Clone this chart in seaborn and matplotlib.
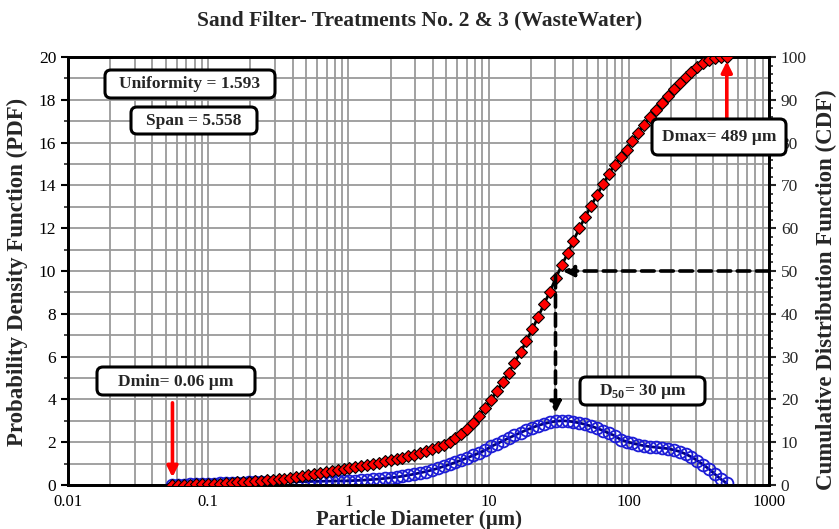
import numpy as np
import pandas as pd
import matplotlib
matplotlib.use("Agg")
import matplotlib.pyplot as plt
import seaborn as sns
from matplotlib.ticker import MultipleLocator, LogLocator, FixedLocator, FixedFormatter, NullFormatter
from matplotlib.patches import FancyBboxPatch
from matplotlib.transforms import IdentityTransform

# ---------------- data ----------------
diameter_um = [0.0556, 0.0612, 0.0675, 0.0743, 0.0819, 0.0902, 0.0994, 0.110, 0.121, 0.133,
               0.147, 0.161, 0.178, 0.196, 0.216, 0.238, 0.262, 0.288, 0.318, 0.350,
               0.385, 0.424, 0.469, 0.516, 0.569, 0.627, 0.690, 0.760, 0.838, 0.923,
               1.016, 1.12, 1.23, 1.36, 1.50, 1.65, 1.82, 2.00, 2.21, 2.43,
               2.68, 2.95, 3.25, 3.58, 3.94, 4.34, 4.78, 5.27, 5.80, 6.39,
               7.05, 7.76, 8.56, 9.43, 10.4, 11.5, 12.6, 13.9, 15.3, 16.9,
               18.6, 20.5, 22.5, 24.8, 27.4, 30.1, 33.2, 36.6, 40.3, 44.4,
               49.0, 54.0, 59.4, 65.5, 72.1, 79.4, 87.5, 96.4, 106, 117,
               129, 142, 157, 172, 190, 209, 231, 254, 280, 308,
               340, 374, 412, 454, 500]

pdf_pct = [0.00, 0.01, 0.02, 0.03, 0.04, 0.05, 0.06, 0.07, 0.08, 0.09,
           0.10, 0.10, 0.11, 0.12, 0.12, 0.13, 0.13, 0.14, 0.14, 0.15,
           0.15, 0.15, 0.16, 0.16, 0.17, 0.17, 0.18, 0.18, 0.19, 0.19,
           0.20, 0.21, 0.22, 0.24, 0.26, 0.28, 0.31, 0.34, 0.37, 0.41,
           0.46, 0.51, 0.57, 0.63, 0.70, 0.78, 0.87, 0.96, 1.06, 1.16,
           1.27, 1.38, 1.50, 1.62, 1.80, 1.93, 2.06, 2.19, 2.32, 2.45,
           2.57, 2.68, 2.78, 2.86, 2.93, 2.98, 3.00, 2.99, 2.95, 2.90,
           2.83, 2.75, 2.65, 2.54, 2.42, 2.30, 2.12, 2.03, 1.95, 1.89,
           1.83, 1.79, 1.76, 1.73, 1.70, 1.64, 1.56, 1.45, 1.31, 1.14,
           0.95, 0.74, 0.50, 0.27, 0.08]

cdf_pct = [0.00, 0.02, 0.05, 0.08, 0.12, 0.16, 0.20, 0.27, 0.35, 0.44,
           0.53, 0.62, 0.71, 0.80, 0.90, 1.00, 1.10, 1.20, 1.30, 1.50,
           1.70, 1.90, 2.10, 2.30, 2.52, 2.75, 3.00, 3.25, 3.50, 3.75,
           4.00, 4.20, 4.45, 4.70, 4.95, 5.20, 5.50, 5.80, 6.10, 6.40,
           6.75, 7.10, 7.45, 7.85, 8.30, 8.85, 9.45, 10.1, 10.9, 11.9,
           13.0, 14.5, 16.2, 18.1, 19.9, 22.0, 24.0, 26.2, 28.6, 31.0,
           33.7, 36.4, 39.2, 42.2, 45.2, 48.3, 51.3, 54.1, 57.1, 60.0,
           62.7, 65.3, 67.8, 70.3, 72.7, 74.8, 76.7, 78.3, 80.3, 82.3,
           84.2, 85.9, 87.6, 89.3, 90.9, 92.5, 94.0, 95.4, 96.6, 97.7,
           98.6, 99.3, 99.7, 99.9, 100.0]

x_ticks = [0.01, 0.1, 1, 10, 100, 1000]
x_tick_labels = ["0.01", "0.1", "1", "10", "100", "1000"]
d_min, d50, d_max = 0.0556, 30, 500

df = pd.DataFrame({"diameter": diameter_um, "pdf": pdf_pct, "cdf": cdf_pct})

# ---------------- style ----------------
sns.set_style("white")
plt.rcParams["font.family"] = ["Liberation Serif", "DejaVu Serif"]
plt.rcParams["mathtext.fontset"] = "custom"
plt.rcParams["mathtext.rm"] = "Liberation Serif"
plt.rcParams["mathtext.bf"] = "Liberation Serif:bold"

W, H = 839, 529
fig = plt.figure(figsize=(W / 100, H / 100), dpi=100)
L, R, T, B = 68, 769, 57, 485
ax = fig.add_axes([L / W, 1 - B / H, (R - L) / W, (B - T) / H])
ax2 = ax.twinx()

# series
sns.lineplot(data=df, x="diameter", y="pdf", ax=ax, color="#000080", linewidth=2.0,
             marker="o", markersize=8.5, markerfacecolor="none", markeredgecolor="#1c1cd6",
             markeredgewidth=1.3, sort=False, legend=False, zorder=3)
sns.lineplot(data=df, x="diameter", y="cdf", ax=ax2, color="black", linewidth=2.0,
             marker="D", markersize=6.5, markerfacecolor="#ff0000", markeredgecolor="black",
             markeredgewidth=0.8, sort=False, legend=False, zorder=3)
ax.set_xlabel("")
ax.set_ylabel("")
ax2.set_ylabel("")

ax.set_xscale("log")
ax.set_xlim(0.01, 1000)
ax.set_ylim(0, 20)
ax2.set_ylim(0, 100)

# ticks & grid
ax.set_axisbelow(True)
ax.xaxis.set_major_locator(FixedLocator(x_ticks))
ax.xaxis.set_major_formatter(FixedFormatter(x_tick_labels))
ax.xaxis.set_minor_locator(LogLocator(base=10, subs=np.arange(2, 10), numticks=20))
ax.xaxis.set_minor_formatter(NullFormatter())
ax.yaxis.set_major_locator(MultipleLocator(2))
ax.yaxis.set_minor_locator(MultipleLocator(1))
ax.grid(which="both", axis="both", color="#9a9a9a", linewidth=1.3)
ax2.yaxis.set_major_locator(MultipleLocator(10))
ax2.yaxis.set_minor_locator(MultipleLocator(2))
ax2.grid(False)

for a in (ax, ax2):
    for s in a.spines.values():
        s.set_color("black")
        s.set_linewidth(2.0)
ax.tick_params(which="major", direction="out", length=5, width=1.5, labelsize=12.5, colors="black")
ax.tick_params(axis="x", which="major", pad=1.5, labelsize=12)
ax.tick_params(which="minor", direction="out", length=3, width=1.2)
ax2.tick_params(which="major", direction="out", length=5, width=1.5, labelsize=12.5)
ax2.tick_params(which="minor", direction="out", length=3, width=1.2)

# labels
fig.text(420 / W, 1 - 20 / H, "Sand Filter- Treatments No. 2 & 3 (WasteWater)",
         ha="center", va="center", fontsize=15.5, fontweight="bold")
fig.text(419 / W, 1 - 519.5 / H, "Particle Diameter (µm)", ha="center", va="center",
         fontsize=15, fontweight="bold")
fig.text(17 / W, 1 - 272 / H, "Probability Density Function (PDF)", ha="center", va="center",
         rotation=90, fontsize=16.5, fontweight="bold")
fig.text(826 / W, 1 - 290 / H, "Cumulative Distribution Function (CDF)", ha="center", va="center",
         rotation=90, fontsize=16.5, fontweight="bold")

# arrows (on CDF axis coordinates)
dash_kw = dict(arrowstyle="-|>", color="black", lw=2.6, linestyle=(0, (3.5, 1.8)),
               mutation_scale=16, shrinkA=0, shrinkB=0)
ax2.annotate("", xy=(33.7, 50), xytext=(1000, 50), arrowprops=dash_kw, zorder=6)
ax2.annotate("", xy=(d50, 16.8), xytext=(d50, 49), arrowprops=dash_kw, zorder=6)
red_kw = dict(arrowstyle="-|>", color="#ff0000", lw=2.6, mutation_scale=16, shrinkA=0, shrinkB=0)
ax2.annotate("", xy=(d_max, 99.0), xytext=(d_max, 85.5), arrowprops=red_kw, zorder=6)
ax2.annotate("", xy=(d_min, 1.8), xytext=(d_min, 19.2), arrowprops=red_kw, zorder=6)


def box(x0, y0, x1, y1, text):
    p = FancyBboxPatch((x0, H - y1), x1 - x0, y1 - y0,
                       boxstyle="round,pad=0,rounding_size=6",
                       transform=IdentityTransform(), facecolor="white",
                       edgecolor="black", linewidth=2.2, zorder=10)
    fig.patches.append(p)
    fig.text((x0 + x1) / 2 / W, 1 - ((y0 + y1) / 2 + 0.5) / H, text, ha="center", va="center",
             fontsize=12.5, fontweight="bold", zorder=11)


box(105, 70, 275, 98, "Uniformity = 1.593")
box(131, 107, 257, 134, "Span = 5.558")
box(652, 119, 786, 155, "Dmax= 489 µm")
box(97, 367, 255, 395, "Dmin= 0.06 µm")
box(580, 377, 705, 405, r"D$_{\mathbf{50}}$= 30 µm")

fig.savefig("out.png", dpi=100)
